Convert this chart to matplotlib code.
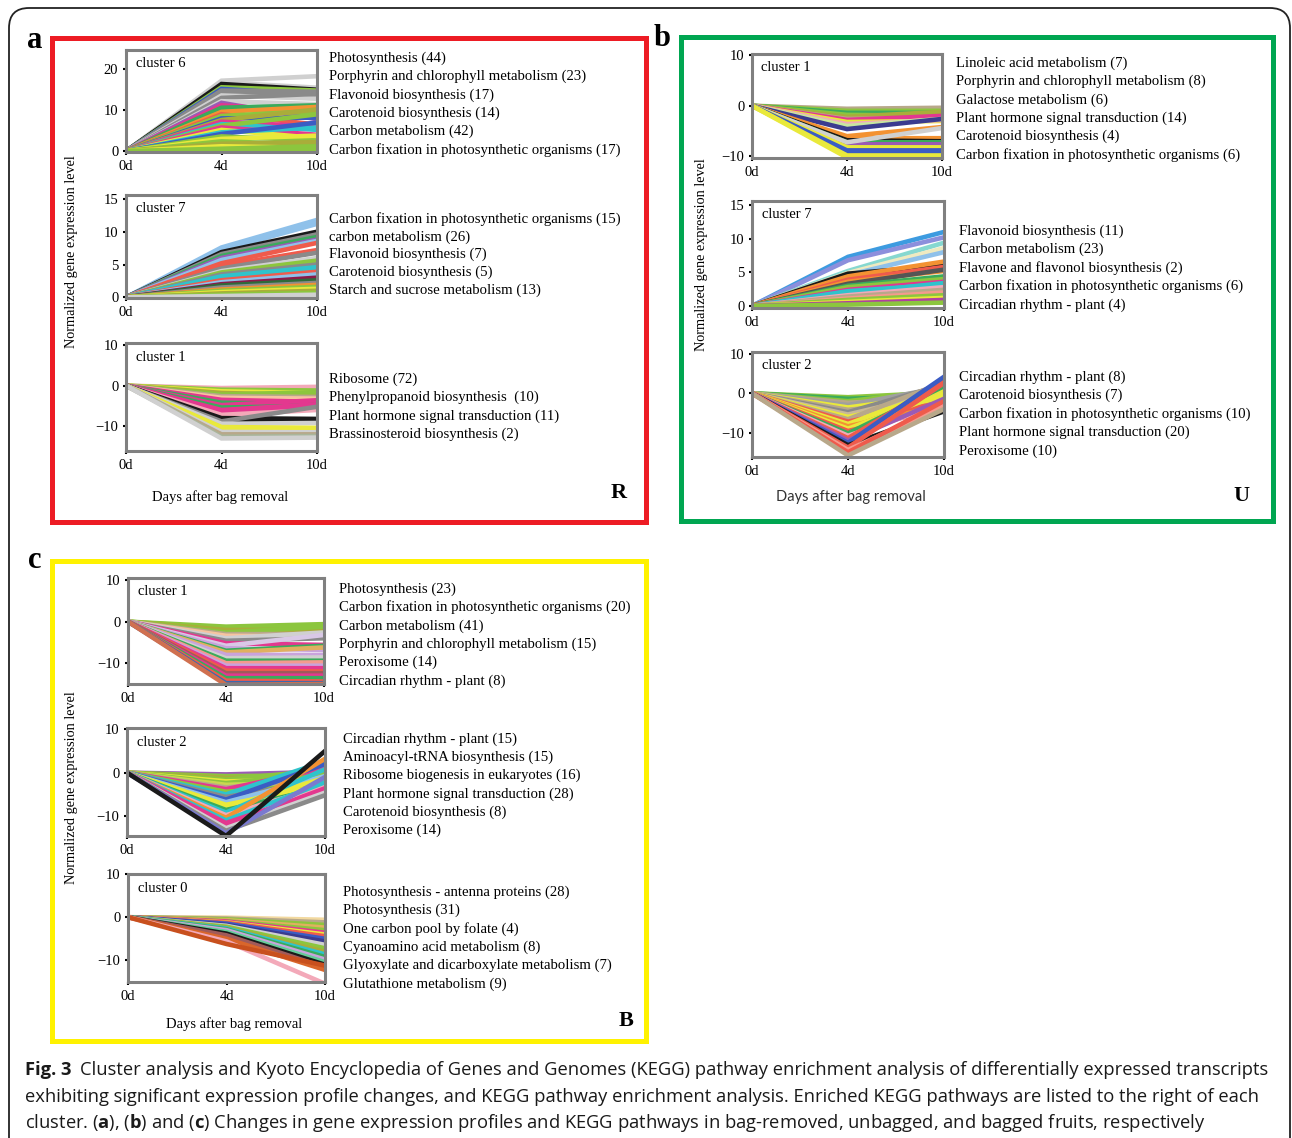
import matplotlib
matplotlib.use("Agg")
import matplotlib.pyplot as plt
from matplotlib.patches import Rectangle, FancyBboxPatch

plt.rcParams['font.family'] = ['Liberation Serif', 'DejaVu Serif']
plt.rcParams['mathtext.fontset'] = 'custom'
plt.rcParams['mathtext.rm'] = 'Open Sans'
plt.rcParams['mathtext.bf'] = 'Open Sans:bold'

W, H, DPI = 1292, 1138, 100

# 时间点（类别轴）
DAY_LABELS = ['0d', '4d', '10d']

# 颜色简写
PAL = {
    'k': '#1a1a1a', 'g': '#8a8a8a', 'lg': '#d0d0d0', 'yg': '#8cc63e', 'y': '#e9e93b',
    'm': '#e3388f', 'r': '#ef5b4c', 'b': '#3b5cc4', 'c': '#2fc3cc', 'p': '#9a5bb5',
    'o': '#f39232', 'kh': '#b8a88a', 'sb': '#8fc1ea', 'gr': '#3aab5c', 'ol': '#a9ad3a',
    'pk': '#f3a9b9', 'lv': '#c9a3dc', 'lv2': '#d9c8e6', 'nv': '#3b3b8f', 'br': '#a05a5a',
    'mr': '#8b1a4a', 'dg': '#2e6b3a', 'pe': '#f6c3a0', 'sg': '#a9b59b', 'lgn': '#c8e6a0',
    'bl': '#3d9be0', 'lvb': '#8c8fdc', 'tl': '#86d8d0', 'cr': '#efeac0', 'dk': '#555555',
    'sa': '#f59a8e', 'mg': '#b040a0', 'g2': '#a0a0a0', 'tn': '#c8b89a', 'gd': '#e0b060',
    'bu': '#3a6ab0', 'or': '#d07050', 'yl': '#c8d850', 'pu': '#7a7ad0', 'bg': '#f2d9a0',
    'mt': '#66cc99', 'ro': '#d9662b', 'or2': '#c8501e',
}

# ---- (a) R: 去袋果实 ----
a6_d4 = [17.2, 16.8, 16.4, 16.0, 15.6, 15.2, 14.8, 14.2, 13.6, 13.0, 12.2, 11.8, 11.2, 10.6, 9.6, 9.0, 8.6,
         8.0, 7.6, 7.2, 6.6, 6.2, 5.8, 5.2, 4.6, 4.2, 3.6, 3.0, 2.4, 1.8, 1.2, 0.6, 0.2]
a6_d10 = [18.3, 15.5, 15.0, 14.2, 14.8, 13.8, 14.5, 13.5, 12.8, 14.0, 11.5, 7.8, 9.5, 11.2, 10.8, 6.5, 9.8,
          8.2, 10.2, 6.0, 5.2, 9.0, 4.0, 3.2, 5.8, 7.0, 2.6, 3.8, 1.6, 2.2, 0.8, 1.2, 0.3]
a6_col = "lg lg k k yg b g g lg g lg p m gr o r yg b ol m c yg m y c b yg y yg ol y yg yg".split()

a7_d4 = [7.6, 7.2, 6.9, 6.6, 6.3, 6.0, 5.7, 5.2, 4.8, 4.4, 4.0, 3.8, 3.5, 3.2, 2.9, 2.6, 2.3, 2.0, 1.8, 1.5,
         1.2, 1.0, 0.8, 0.6, 0.4, 0.2]
a7_d10 = [11.8, 11.2, 10.0, 9.6, 9.2, 8.8, 8.6, 8.3, 7.2, 6.8, 6.0, 5.6, 5.0, 4.6, 4.2, 3.9, 3.5, 3.0, 2.6,
          2.2, 1.9, 1.6, 1.3, 1.0, 0.7, 0.4]
a7_col = "sb sb k g gr p sb r r g lg yg g c c r sb mr dg g o yg y ol yg lg".split()

a1_d4 = [-0.6, -1.0, -1.4, -1.8, -2.2, -2.6, -3.0, -3.5, -4.2, -4.8, -5.4, -6.0, -6.6, -7.2, -8.0, -8.6, -8.8,
         -9.4, -10.2, -10.8, -11.4, -12.0, -12.6, -13.0]
a1_d10 = [-0.3, -1.2, -1.8, -2.4, -1.6, -2.8, -3.2, -4.0, -4.6, -3.6, -5.0, -4.6, -5.4, -6.0, -8.2, -8.8, -5.2,
          -9.2, -10.4, -10.8, -11.5, -12.0, -12.4, -12.8]
a1_col = "pk yg y ol yg kh pe m gr m gr m m pk k k g lg y y lg kh sg lg".split()

# ---- (b) U: 未套袋果实 ----
b1_d4 = [-0.6, -1.0, -1.4, -1.8, -2.2, -2.6, -2.8, -3.2, -3.6, -4.0, -4.6, -6.0, -6.4, -6.8, -7.2, -7.6, -7.2,
         -8.2, -8.8, -9.3, -9.8, -10.2]
b1_d10 = [-0.4, -1.0, -1.4, -2.0, -1.2, -2.4, -2.0, -3.0, -2.8, -2.6, -2.6, -4.2, -6.4, -7.0, -7.2, -7.6, -4.4,
          -8.2, -8.8, -9.4, -9.8, -10.2]
b1_col = "kh yg gr yg ol kh m y pk lgn nv o o k gr p lg y b b y y".split()

b7_d4 = [7.3, 6.8, 5.2, 4.9, 4.6, 4.8, 4.4, 3.9, 3.6, 3.3, 3.0, 2.8, 2.4, 2.2, 1.9, 1.6, 1.4, 1.1, 0.9, 0.6,
         0.4, 0.2]
b7_d10 = [11.0, 10.2, 9.4, 8.6, 8.0, 6.0, 6.6, 5.8, 5.2, 5.4, 4.4, 4.0, 3.6, 3.2, 3.4, 2.8, 2.4, 2.0, 1.6, 1.2,
          0.9, 0.5]
b7_col = "bl lvb tl cr sb k o r o dk gr yg m c c pk kh sa yg y mg yg".split()

b2_d4 = [-1.0, -1.4, -2.0, -2.4, -3.0, -3.6, -4.2, -4.8, -5.4, -6.0, -6.6, -7.2, -7.8, -8.4, -9.0, -9.6, -10.2,
         -10.8, -11.4, -12.0, -12.6, -13.2, -13.8, -14.4, -15.0, -15.8]
b2_d10 = [0.2, -0.6, 0.8, -1.2, 1.6, -0.4, -1.8, 2.2, 0.4, -1.0, 2.8, -2.2, 1.2, -3.0, 0.0, -3.6, 1.8, -2.6,
          3.2, -1.4, 4.2, -4.6, 2.6, -3.4, -2.0, -4.0]
b2_col = "yg gr yg kh g2 y kh g tn y kh r y o y r gr pk r p b k r sa r kh".split()

# ---- (c) B: 套袋果实 ----
c1_d4 = [-1.2, -1.6, -2.0, -2.6, -3.0, -3.4, -4.0, -4.6, -5.2, -5.8, -6.4, -7.0, -7.4, -8.0, -8.8, -9.4, -10.0,
         -10.6, -11.2, -11.8, -12.4, -13.0, -13.6, -14.2, -14.8, -15.2]
c1_d10 = [-0.6, -1.4, -2.0, -1.2, -3.0, -3.6, -2.6, -4.0, -5.6, -3.2, -6.8, -5.8, -6.2, -8.0, -8.6, -9.4, -9.8,
          -10.6, -11.2, -12.0, -12.4, -13.0, -13.6, -14.4, -14.8, -15.0]
c1_col = "yg yg ol yg kh pe lg g m lv2 lv gr gd lv lg gr sa lv m r br m gr r bu or".split()

c2_d4 = [-0.4, -0.8, -1.2, -1.6, -2.0, -2.4, -2.8, -3.4, -3.8, -4.4, -5.0, -5.6, -6.2, -6.8, -7.4, -8.0, -8.6,
         -9.2, -9.8, -10.4, -11.0, -11.6, -12.2, -12.8, -13.4, -14.0, -14.6]
c2_d10 = [0.2, -0.6, -1.0, 0.6, -1.6, -0.2, -2.2, -1.4, 1.0, -2.6, 2.6, -1.8, 2.0, -0.8, -2.8, -1.2, -3.4, 0.8,
          -3.0, 3.2, -2.2, -4.0, -3.6, -4.6, -5.2, -1.0, 5.0]
c2_col = "p yg ol yg y yg yl kh m yg c g b sb y y gr c pk o c m m lg g pu k".split()

c0_d4 = [-0.1, -0.3, -0.5, -0.7, -0.9, -1.0, -1.2, -1.3, -1.5, -1.8, -2.0, -2.2, -2.4, -2.6, -2.8, -3.0, -3.4,
         -3.8, -4.2, -5.0, -5.6, -6.2]
c0_d10 = [-0.6, -1.2, -1.8, -2.4, -3.0, -3.6, -4.0, -4.4, -5.0, -5.6, -6.4, -7.2, -8.0, -8.6, -9.2, -9.8, -10.4,
          -11.0, -11.6, -12.2, -15.4, -11.2]
c0_col = "bg kh yg gd yg m y r b nv lg yg ol c gr lv mt k br ro pk or2".split()

# KEGG 通路标注
a6_kegg = ["Photosynthesis (44)", "Porphyrin and chlorophyll metabolism (23)", "Flavonoid biosynthesis (17)",
           "Carotenoid biosynthesis (14)", "Carbon metabolism (42)",
           "Carbon fixation in photosynthetic organisms (17)"]
a7_kegg = ["Carbon fixation in photosynthetic organisms (15)", "carbon metabolism (26)",
           "Flavonoid biosynthesis (7)", "Carotenoid biosynthesis (5)", "Starch and sucrose metabolism (13)"]
a1_kegg = ["Ribosome (72)", "Phenylpropanoid biosynthesis  (10)", "Plant hormone signal transduction (11)",
           "Brassinosteroid biosynthesis (2)"]
b1_kegg = ["Linoleic acid metabolism (7)", "Porphyrin and chlorophyll metabolism (8)", "Galactose metabolism (6)",
           "Plant hormone signal transduction (14)", "Carotenoid biosynthesis (4)",
           "Carbon fixation in photosynthetic organisms (6)"]
b7_kegg = ["Flavonoid biosynthesis (11)", "Carbon metabolism (23)", "Flavone and flavonol biosynthesis (2)",
           "Carbon fixation in photosynthetic organisms (6)", "Circadian rhythm - plant (4)"]
b2_kegg = ["Circadian rhythm - plant (8)", "Carotenoid biosynthesis (7)",
           "Carbon fixation in photosynthetic organisms (10)", "Plant hormone signal transduction (20)",
           "Peroxisome (10)"]
c1_kegg = ["Photosynthesis (23)", "Carbon fixation in photosynthetic organisms (20)", "Carbon metabolism (41)",
           "Porphyrin and chlorophyll metabolism (15)", "Peroxisome (14)", "Circadian rhythm - plant (8)"]
c2_kegg = ["Circadian rhythm - plant (15)", "Aminoacyl-tRNA biosynthesis (15)",
           "Ribosome biogenesis in eukaryotes (16)", "Plant hormone signal transduction (28)",
           "Carotenoid biosynthesis (8)", "Peroxisome (14)"]
c0_kegg = ["Photosynthesis - antenna proteins (28)", "Photosynthesis (31)", "One carbon pool by folate (4)",
           "Cyanoamino acid metabolism (8)", "Glyoxylate and dicarboxylate metabolism (7)",
           "Glutathione metabolism (9)"]

CAPTION_HEAD = "Fig. 3"
CAPTION = [
    "Cluster analysis and Kyoto Encyclopedia of Genes and Genomes (KEGG) pathway "
    "enrichment analysis of differentially expressed transcripts",
    "exhibiting significant expression profile changes, and KEGG pathway enrichment analysis. "
    "Enriched KEGG pathways are listed to the right of each",
    r"cluster. ($\mathbf{a}$), ($\mathbf{b}$) and ($\mathbf{c}$) Changes in gene expression profiles and "
    r"KEGG pathways in bag-removed, unbagged, and bagged fruits, respectively",
]

fig = plt.figure(figsize=(W / DPI, H / DPI), dpi=DPI)


def px_rect(x0, y0, x1, y1):
    """像素坐标(左上原点) -> 英寸坐标"""
    return x0 / DPI, (H - y1) / DPI, (x1 - x0) / DPI, (y1 - y0) / DPI


def ftext(x, y, s, **kw):
    fig.text(x / W, 1 - y / H, s, **kw)


def draw_cluster(box, name, d4, d10, cols, ylim, yticks, kegg_x, kegg_y0, kegg, step=18.4):
    x0, y0, x1, y1 = box
    ax = fig.add_axes([x0 / W, 1 - y1 / H, (x1 - x0) / W, (y1 - y0) / H])
    xs = range(len(DAY_LABELS))
    for v4, v10, c in zip(d4, d10, cols):
        ax.plot(xs, [0, v4, v10], color=PAL[c], lw=3.3, solid_joinstyle='miter')
    ax.set_xlim(0, len(DAY_LABELS) - 1)
    ax.set_ylim(*ylim)
    ax.set_xticks(list(xs))
    ax.set_xticklabels(DAY_LABELS, fontsize=10.5)
    ax.set_yticks(yticks)
    ax.set_yticklabels([str(t).replace('-', '\u2212') for t in yticks], fontsize=10.5)
    ax.tick_params(length=2.5, width=1.5, pad=3, color='black')
    for sp in ax.spines.values():
        sp.set_color('#808080')
        sp.set_linewidth(2.2)
        sp.set_zorder(5)
    ax.text(0.05, 0.93, name, transform=ax.transAxes, fontsize=10.5, va='top')
    for i, s in enumerate(kegg):
        ftext(kegg_x, kegg_y0 + i * step, s, fontsize=10.6, va='center')
    return ax


# a
draw_cluster((126, 50, 317, 152), "cluster 6", a6_d4, a6_d10, a6_col, (-0.2, 24.7), [0, 10, 20], 329, 58, a6_kegg)
draw_cluster((126, 195, 317, 298), "cluster 7", a7_d4, a7_d10, a7_col, (-0.1, 15.6), [0, 5, 10, 15], 329, 219,
             a7_kegg, 17.8)
draw_cluster((126, 343, 317, 451), "cluster 1", a1_d4, a1_d10, a1_col, (-16.1, 10.5), [-10, 0, 10], 329, 379,
             a1_kegg)
# b
draw_cluster((752, 54, 942, 158), "cluster 1", b1_d4, b1_d10, b1_col, (-10.3, 10.2), [-10, 0, 10], 956, 63,
             b1_kegg)
draw_cluster((752, 201, 944, 308), "cluster 7", b7_d4, b7_d10, b7_col, (-0.3, 15.6), [0, 5, 10, 15], 959, 231,
             b7_kegg, 18.5)
draw_cluster((752, 352, 944, 457), "cluster 2", b2_d4, b2_d10, b2_col, (-16.2, 10.5), [-10, 0, 10], 959, 377,
             b2_kegg, 18.5)
# c
draw_cluster((128, 578, 324, 684), "cluster 1", c1_d4, c1_d10, c1_col, (-15, 10.5), [-10, 0, 10], 339, 589,
             c1_kegg)
draw_cluster((127, 728, 325, 836), "cluster 2", c2_d4, c2_d10, c2_col, (-14.6, 10.3), [-10, 0, 10], 343, 739,
             c2_kegg, 18.3)
draw_cluster((128, 874, 325, 982), "cluster 0", c0_d4, c0_d10, c0_col, (-15, 10), [-10, 0, 10], 343, 892,
             c0_kegg)

# 坐标轴标题
ylab = "Normalized gene expression level"
ftext(72, 252, ylab, fontsize=10.3, rotation=90, ha='center', va='center')
ftext(702, 255, ylab, fontsize=10.3, rotation=90, ha='center', va='center')
ftext(72, 788, ylab, fontsize=10.3, rotation=90, ha='center', va='center')
ftext(220, 497, "Days after bag removal", fontsize=10.5, ha='center', va='center')
ftext(851, 497, "Days after bag removal", fontsize=10.5, ha='center', va='center', family='Lato', color='#333333')
ftext(234, 1024, "Days after bag removal", fontsize=10.5, ha='center', va='center')

# 面板边框与标签
for (x0, y0, x1, y1), col in [((52, 38, 646, 522), '#ed1c24'), ((681, 37, 1273, 521), '#00a651'),
                              ((52, 561, 646, 1041), '#fff200')]:
    r = Rectangle(px_rect(x0, y0, x1, y1)[:2], *px_rect(x0, y0, x1, y1)[2:], fill=False, ec=col, lw=3.6,
                  transform=fig.dpi_scale_trans)
    fig.add_artist(r)
ftext(35, 40, "a", fontsize=22, weight='bold', ha='center', va='center')
ftext(662, 38, "b", fontsize=22, weight='bold', ha='center', va='center')
ftext(35, 560, "c", fontsize=22, weight='bold', ha='center', va='center')
ftext(619, 493, "R", fontsize=16, weight='bold', ha='center', va='center')
ftext(1241, 496, "U", fontsize=16, weight='bold', ha='center', va='center')
ftext(626, 1021, "B", fontsize=16, weight='bold', ha='center', va='center')

# 外框
bx = px_rect(9, 8, 1290, 1175)
fig.add_artist(FancyBboxPatch(bx[:2], bx[2], bx[3], boxstyle="round,pad=0,rounding_size=0.2", fill=False,
                              ec='#222222', lw=1.3, transform=fig.dpi_scale_trans))

# 图注
ftext(25, 1070, CAPTION_HEAD, fontsize=13.2, family='Open Sans', weight='bold', va='center', color='#1a1a1a')
for i, line in enumerate(CAPTION):
    x = 80 if i == 0 else 25
    ftext(x, 1070 + i * 26.5, line, fontsize=13.2, family='Open Sans', va='center', color='#1a1a1a')

fig.savefig("out.png", dpi=DPI)
